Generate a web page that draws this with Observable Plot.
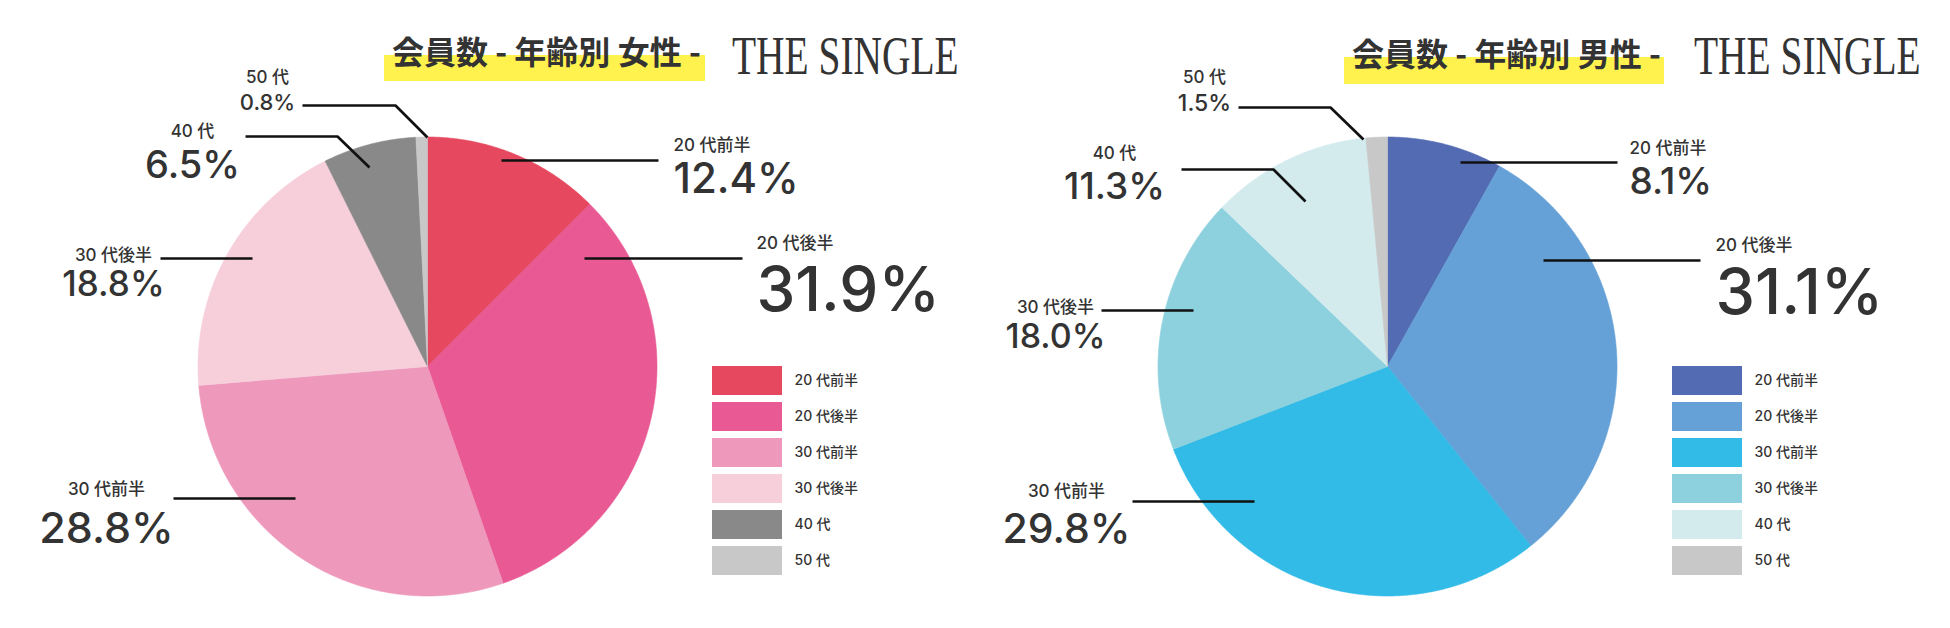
<!DOCTYPE html>
<html><head><meta charset="utf-8">
<script src="https://cdn.jsdelivr.net/npm/d3@7"></script>
<script src="https://cdn.jsdelivr.net/npm/@observablehq/plot@0.6"></script>
<style>
html,body{margin:0;padding:0;background:#fff;}
#root{position:relative;width:1950px;height:628px;overflow:hidden;}
.panel{position:absolute;top:0;width:975px;height:628px;}
.panel svg{position:absolute;left:0;top:0;background:transparent;}
.hl{position:absolute;background:#FFF24F;}
.title{position:absolute;font-family:"Noto Sans CJK JP",sans-serif;font-weight:700;font-size:32px;line-height:32px;color:#333;white-space:nowrap;}
.brand{position:absolute;font-family:"Liberation Serif",serif;font-size:54px;line-height:54px;color:#333;white-space:nowrap;transform:scaleX(0.73);transform-origin:0 0;}
</style></head><body><div id="root"></div>
<script>
// ---- data ----
const categories = ["20代前半","20代後半","30代前半","30代後半","40代","50代"];
const labelTexts = ["20 代前半","20 代後半","30 代前半","30 代後半","40 代","50 代"];
const femaleValues = [12.4, 31.9, 28.8, 18.8, 6.5, 0.8];
const maleValues = [8.1, 31.1, 29.8, 18.0, 11.3, 1.5];
const femaleColors = ["#E6485F","#E95A95","#EE98BB","#F6CFDB","#898989","#C8C8C8"];
const maleColors = ["#536BB2","#65A1D6","#33BBE7","#8DD1DE","#D4EBEE","#C8C8C8"];
const femaleTitle = "会員数 - 年齢別 女性 -";
const maleTitle = "会員数 - 年齢別 男性 -";
const brandText = "THE SINGLE";

// ---- layout (panel pixel coordinates) ----
const pieCenter = {x: 427, y: 366}, pieRadius = 229.5;
const femaleLabelLayout = [
  {leader: [[501,160],[658,160]], x: 673, anchor: "start", ySmall: 150, yBig: 192, size: 42},
  {leader: [[584,258],[742,258]], x: 756, anchor: "start", ySmall: 248, yBig: 310, size: 62},
  {leader: [[173,498],[295,498]], x: 106, anchor: "middle", ySmall: 494, yBig: 542, size: 43},
  {leader: [[160,258],[252,258]], x: 113, anchor: "middle", ySmall: 260, yBig: 295, size: 35},
  {leader: [[245,136],[337,136],[369,167]], x: 192, anchor: "middle", ySmall: 136, yBig: 177, size: 38},
  {leader: [[302,105],[395,105],[427,137]], x: 267, anchor: "middle", ySmall: 82, yBig: 109, size: 22}
];
const maleLabelLayout = [
  {leader: [[500,162],[657,162]], x: 669, anchor: "start", ySmall: 153, yBig: 193, size: 37},
  {leader: [[583,260],[740,260]], x: 755, anchor: "start", ySmall: 250, yBig: 313, size: 63},
  {leader: [[172,501],[294,501]], x: 106, anchor: "middle", ySmall: 496, yBig: 542, size: 41},
  {leader: [[141,310],[233,310]], x: 95, anchor: "middle", ySmall: 312, yBig: 347, size: 34},
  {leader: [[221,169],[313,169],[345,201]], x: 154, anchor: "middle", ySmall: 158, yBig: 198, size: 37},
  {leader: [[278,107],[370,107],[403,139]], x: 244, anchor: "middle", ySmall: 82, yBig: 110, size: 23}
];

const panels = [
  {values: femaleValues, colors: femaleColors, title: femaleTitle, left: 0, labels: femaleLabelLayout,
   hl: {x: 384, y: 55, w: 321, h: 26}, titleX: 392, titleY: 34, brandX: 732},
  {values: maleValues, colors: maleColors, title: maleTitle, left: 960, labels: maleLabelLayout,
   hl: {x: 384, y: 57, w: 320, h: 27}, titleX: 392, titleY: 36, brandX: 734}
];

const W = 975, H = 628;
const font = "Inter, 'Noto Sans CJK JP', sans-serif";
const root = document.getElementById("root");

for (const p of panels) {
  const rows = categories.map((c, i) => ({cat: c, value: p.values[i]}));
  const arcs = d3.pie().sort(null).value(d => d.value)(rows);
  const piePts = [];
  for (const a of arcs) {
    const c = a.data.cat;
    piePts.push({cat: c, x: pieCenter.x, y: pieCenter.y});
    const n = Math.max(2, Math.ceil((a.endAngle - a.startAngle) / 0.005));
    for (let k = 0; k <= n; k++) {
      const t = a.startAngle + (a.endAngle - a.startAngle) * k / n;
      piePts.push({cat: c, x: pieCenter.x + pieRadius * Math.sin(t), y: pieCenter.y - pieRadius * Math.cos(t)});
    }
    piePts.push({cat: c, x: pieCenter.x, y: pieCenter.y});
  }
  const leaderPts = [];
  p.labels.forEach((l, i) => l.leader.forEach(([x, y]) => leaderPts.push({id: i, x, y})));
  const labelRows = p.labels.map((l, i) => ({...l, small: labelTexts[i], big: p.values[i].toFixed(1) + "%"}));

  const pie = Plot.plot({
    width: W, height: H, margin: 0,
    style: {background: "transparent"},
    x: {domain: [0, W], range: [0, W], axis: null},
    y: {domain: [0, H], range: [0, H], axis: null},
    color: {domain: categories, range: p.colors},
    marks: [
      Plot.line(piePts, {x: "x", y: "y", z: "cat", fill: "cat", stroke: "cat", strokeWidth: 0.6, curve: "linear"}),
      Plot.line(leaderPts, {x: "x", y: "y", z: "id", stroke: "#111", strokeWidth: 2.7, strokeLinejoin: "miter", strokeLinecap: "butt"}),
      Plot.text(labelRows.filter(d => d.anchor === "start"), {x: "x", y: "ySmall", text: "small", textAnchor: "start", lineAnchor: "bottom", fontSize: 17, fontWeight: 500, fill: "#333", fontFamily: font}),
      Plot.text(labelRows.filter(d => d.anchor === "middle"), {x: "x", y: "ySmall", text: "small", textAnchor: "middle", lineAnchor: "bottom", fontSize: 17, fontWeight: 500, fill: "#333", fontFamily: font}),
      Plot.text(labelRows.filter(d => d.anchor === "start"), {x: "x", y: "yBig", text: "big", textAnchor: "start", lineAnchor: "bottom", fontSize: d => d.size, fontWeight: 500, fill: "#333", fontFamily: font}),
      Plot.text(labelRows.filter(d => d.anchor === "middle"), {x: "x", y: "yBig", text: "big", textAnchor: "middle", lineAnchor: "bottom", fontSize: d => d.size, fontWeight: 500, fill: "#333", fontFamily: font})
    ]
  });

  const legend = Plot.plot({
    width: W, height: H, margin: 0,
    style: {background: "transparent"},
    x: {domain: [0, W], range: [0, W], axis: null},
    y: {type: "band", domain: categories, range: [365, 576.5], paddingInner: 0.2055, paddingOuter: 0, axis: null},
    color: {domain: categories, range: p.colors},
    marks: [
      Plot.barX(categories, {x1: 712, x2: 782, y: d => d, fill: d => d}),
      Plot.text(categories, {x: 794, y: d => d, text: (d, i) => labelTexts[i], textAnchor: "start", fontSize: 14, fontWeight: 500, fill: "#333", fontFamily: font})
    ]
  });

  const panel = document.createElement("div");
  panel.className = "panel";
  panel.style.left = p.left + "px";
  panel.appendChild(pie);
  panel.appendChild(legend);

  const hl = document.createElement("div");
  hl.className = "hl";
  Object.assign(hl.style, {left: p.hl.x + "px", top: p.hl.y + "px", width: p.hl.w + "px", height: p.hl.h + "px"});
  panel.appendChild(hl);

  const title = document.createElement("div");
  title.className = "title";
  title.textContent = p.title;
  Object.assign(title.style, {left: p.titleX + "px", top: p.titleY + "px"});
  panel.appendChild(title);

  const brand = document.createElement("div");
  brand.className = "brand";
  brand.textContent = brandText;
  Object.assign(brand.style, {left: p.brandX + "px", top: "29px"});
  panel.appendChild(brand);

  root.appendChild(panel);
}
</script>
</body></html>
